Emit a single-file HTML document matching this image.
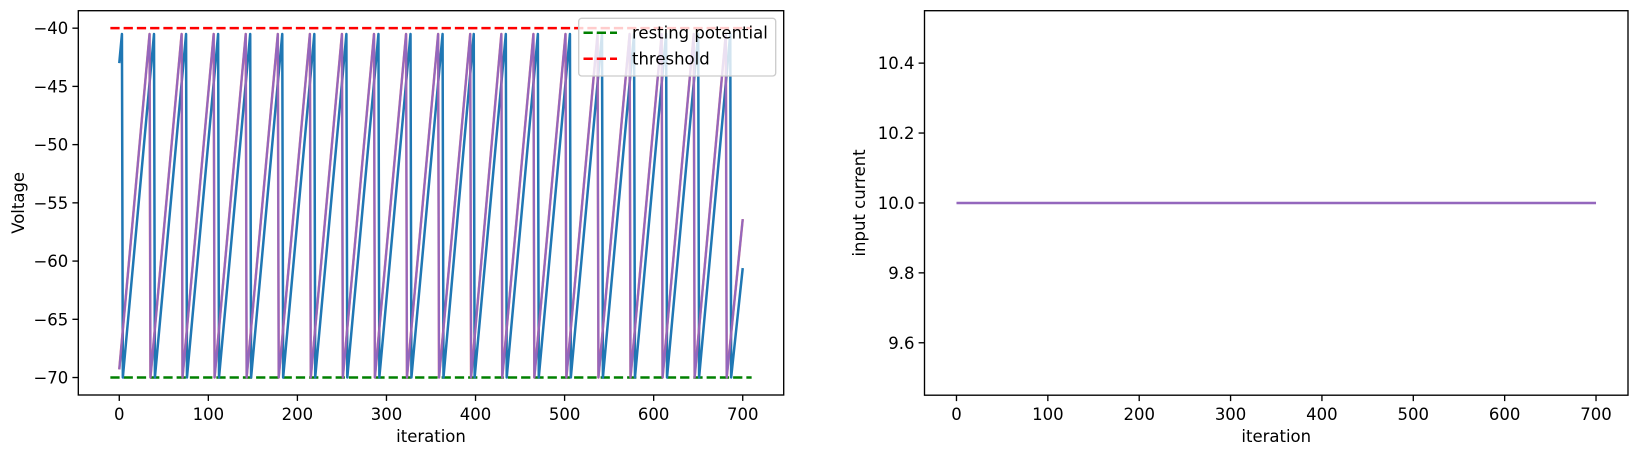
<!DOCTYPE html>
<html><head><meta charset="utf-8"><style>
html,body{margin:0;padding:0;background:#fff;}
svg{display:block;font-family:"DejaVu Sans","Liberation Sans",sans-serif;}
</style></head><body>
<svg id="fig" width="1638" height="456" viewBox="0 0 1638 456" xmlns="http://www.w3.org/2000/svg"></svg>
<script>
// ---- data ----
const blueSpikes = [3,39,75,111,147,183,219,255,291,327,363,398,434,470,506,542,578,614,650,686];
const purpleSpikes = [34,70,106,142,178,214,250,286,322,358,394,429,465,501,537,573,609,645,681];
const blueStartV = -43, purpleStartV = -69.3;
const blueEndV = -60.6, purpleEndV = -56.4;
const peakV = -40.5, resetV = -70;
const endIter = 700;
const restingV = -70, thresholdV = -40;
const refLineX = [-10, 710];
const leftXTicks = [0,100,200,300,400,500,600,700];
const leftYTicks = [-70,-65,-60,-55,-50,-45,-40];
const currentX = [0, 700];
const currentY = [10.0, 10.0];
const rightXTicks = [0,100,200,300,400,500,600,700];
const rightYTicks = [9.6,9.8,10.0,10.2,10.4];

const NS = "http://www.w3.org/2000/svg";
const svg = document.getElementById('fig');
function mk(tag, attrs, parent){
  const e = document.createElementNS(NS, tag);
  for (const k in attrs) e.setAttribute(k, attrs[k]);
  (parent||svg).appendChild(e);
  return e;
}
function scale(d0,d1,p0,p1){ return v => p0 + (v-d0)/(d1-d0)*(p1-p0); }
const FS = 16.5;
function fmt(v){ const s = (Math.abs(v) < 1e-9 ? 0 : v).toString(); return s.replace('-', '\u2212'); }

// ---- left axes ----
const L = {x0:78.3, x1:783.7, y0:10.7, y1:395};
const lx = scale(-46, 746, L.x0, L.x1);
const ly = scale(-71.5, -38.5, L.y1, L.y0);

function traceVerts(spikes, startV, endV){
  const pts = [[0,startV]];
  spikes.forEach(t => { pts.push([t, peakV]); pts.push([t+1, resetV]); });
  pts.push([endIter, endV]);
  return pts;
}
function polyline(pts, xs, ys, color, name, extra){
  const p = mk('polyline', Object.assign({points: pts.map(q => xs(q[0]).toFixed(2)+','+ys(q[1]).toFixed(2)).join(' '),
    fill:'none', stroke:color, 'stroke-width':2.5, 'stroke-linejoin':'round'}, extra||{}));
  
  
  return p;
}
function hline(y, x0, x1, xs, ys, color, name){
  const l = mk('line', {x1:xs(x0), x2:xs(x1), y1:ys(y), y2:ys(y), stroke:color, 'stroke-width':2.5, 'stroke-dasharray':'9.25,4'});
  
  
}

hline(restingV, refLineX[0], refLineX[1], lx, ly, '#008000', 'resting-potential-line');
hline(thresholdV, refLineX[0], refLineX[1], lx, ly, '#ff0000', 'threshold-line');
polyline(traceVerts(blueSpikes, blueStartV, blueEndV), lx, ly, '#1f77b4', 'voltage-trace-neuron-1');
polyline(traceVerts(purpleSpikes, purpleStartV, purpleEndV), lx, ly, '#d62728', 'voltage-trace-neuron-2', {opacity:0.6});
polyline(traceVerts(purpleSpikes, purpleStartV, purpleEndV), lx, ly, '#9467bd', 'voltage-trace-neuron-3', {'stroke-width':2.2});

function axesFrame(A, name){
  const r = mk('rect', {x:A.x0, y:A.y0, width:A.x1-A.x0, height:A.y1-A.y0, fill:'none', stroke:'#000', 'stroke-width':1.35});
  
  
}
function xTicks(ticks, xs, A, name){
  ticks.forEach(t => {
    mk('line', {x1:xs(t), x2:xs(t), y1:A.y1, y2:A.y1+5.9, stroke:'#000', 'stroke-width':1.35});
    const tx = mk('text', {x:xs(t), y:A.y1+25, 'text-anchor':'middle', 'font-size':FS, fill:'#000'});
    tx.textContent = fmt(t);
    
    
  });
}
function yTicks(ticks, ys, A, name, dec){
  ticks.forEach(t => {
    mk('line', {x1:A.x0-5.9, x2:A.x0, y1:ys(t), y2:ys(t), stroke:'#000', 'stroke-width':1.35});
    const tx = mk('text', {x:A.x0-10, y:ys(t)+6, 'text-anchor':'end', 'font-size':FS, fill:'#000'});
    tx.textContent = dec ? fmt(t.toFixed(dec)) : fmt(t);
    
    
  });
}
axesFrame(L, 'voltage-axes-frame');
xTicks(leftXTicks, lx, L, 'voltage-x');
yTicks(leftYTicks, ly, L, 'voltage-y');

let t = mk('text', {x:(L.x0+L.x1)/2, y:442, 'text-anchor':'middle', 'font-size':FS});
t.textContent = 'iteration';


t = mk('text', {x:0, y:0, 'text-anchor':'middle', 'font-size':FS, transform:'translate(24,'+((L.y0+L.y1)/2)+') rotate(-90)'});
t.textContent = 'Voltage';



// legend
const lg = mk('g', {});


mk('rect', {x:578.7, y:18.3, width:197, height:57.7, rx:3, fill:'#fff', 'fill-opacity':0.8, stroke:'#cccccc', 'stroke-width':1.35}, lg);
const legItems = [['resting potential', '#008000', 32.7], ['threshold', '#ff0000', 58.7]];
legItems.forEach(it => {
  const g = mk('g', {}, lg);
  
  
  mk('line', {x1:583.5, x2:617, y1:it[2], y2:it[2], stroke:it[1], 'stroke-width':2.5, 'stroke-dasharray':'9.25,4'}, g);
  const tx = mk('text', {x:632, y:it[2]+6, 'font-size':FS}, g);
  tx.textContent = it[0];
});

// ---- right axes ----
const R = {x0:924.5, x1:1628, y0:10.7, y1:395.2};
const rx = scale(-35, 735, R.x0, R.x1);
const ry = scale(9.45, 10.55, R.y1, R.y0);
polyline(currentX.map((x,i)=>[x,currentY[i]]), rx, ry, '#9467bd', 'input-current-line');
axesFrame(R, 'current-axes-frame');
xTicks(rightXTicks, rx, R, 'current-x');
yTicks(rightYTicks, ry, R, 'current-y', 1);
t = mk('text', {x:(R.x0+R.x1)/2, y:442, 'text-anchor':'middle', 'font-size':FS});
t.textContent = 'iteration';


t = mk('text', {x:0, y:0, 'text-anchor':'middle', 'font-size':FS, transform:'translate(865,'+((R.y0+R.y1)/2)+') rotate(-90)'});
t.textContent = 'input current';


</script>
</body></html>
